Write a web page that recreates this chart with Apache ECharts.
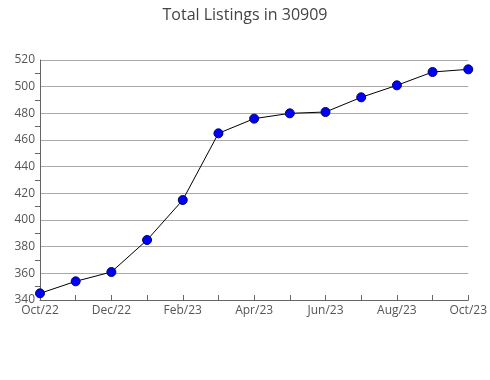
<!DOCTYPE html>
<html><head><meta charset="utf-8">
<script src="https://cdn.jsdelivr.net/npm/echarts@6/dist/echarts.min.js"></script>
<style>html,body{margin:0;padding:0;background:#fff}#c{width:490px;height:380px}</style>
</head><body><div id="c"></div>
<script>
var categories = ['Oct/22','Nov/22','Dec/22','Jan/23','Feb/23','Mar/23','Apr/23','May/23','Jun/23','Jul/23','Aug/23','Sep/23','Oct/23'];
var listings = [345, 354, 361, 385, 415, 465, 476, 480, 481, 492, 501, 511, 513];
var titleText = 'Total Listings in 30909';
var chart = echarts.init(document.getElementById('c'));
chart.setOption({
  animation: false,
  title: {text: titleText, left: 'center', top: 2, textStyle: {fontFamily: 'Open Sans', fontWeight: 'normal', fontSize: 16, color: '#444'}},
  grid: {left: 40, right: 19, top: 60, bottom: 80},
  xAxis: {
    type: 'category', data: categories, boundaryGap: false,
    axisLine: {lineStyle: {color: '#666'}},
    axisTick: {inside: true, length: 5, lineStyle: {color: '#666'}, interval: 0},
    axisLabel: {interval: 1, color: '#555', fontFamily: 'Open Sans', fontSize: 12, margin: 5},
    splitLine: {show: false}
  },
  yAxis: {
    type: 'value', min: 340, max: 520, interval: 20,
    axisLine: {show: true, lineStyle: {color: '#666'}},
    axisTick: {show: false},
    minorTick: {show: true, splitNumber: 2, length: 5, lineStyle: {color: '#666'}},
    axisLabel: {color: '#555', fontFamily: 'Open Sans', fontSize: 12, margin: 5},
    splitLine: {show: true, lineStyle: {color: '#aaa'}}
  },
  series: [{
    type: 'line', data: listings, symbol: 'circle', symbolSize: 9,
    lineStyle: {color: '#000', width: 1},
    itemStyle: {color: '#0000ff', borderColor: '#000066', borderWidth: 1}
  }]
});
</script></body></html>
